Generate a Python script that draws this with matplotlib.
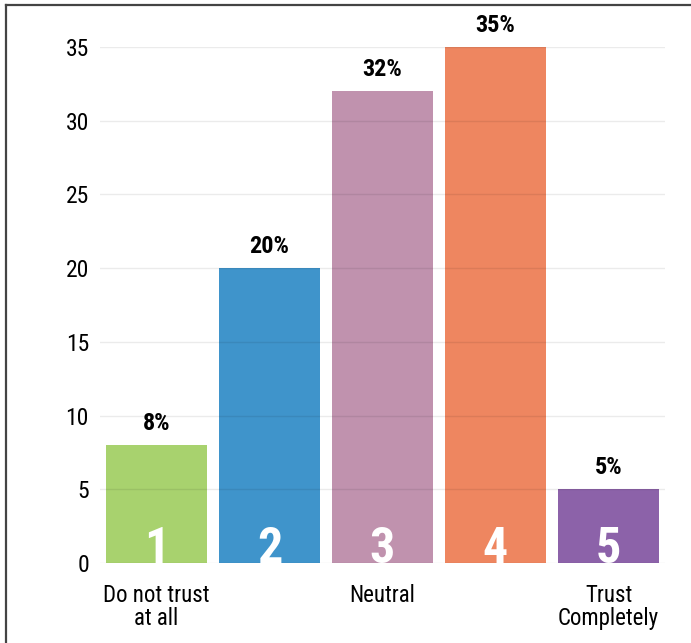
import matplotlib
matplotlib.use("Agg")
import matplotlib.pyplot as plt
from matplotlib.lines import Line2D

categories = ["1", "2", "3", "4", "5"]
values = [8, 20, 32, 35, 5]
pct_labels = ["8%", "20%", "32%", "35%", "5%"]
tick_labels = ["Do not trust\nat all", "", "Neutral", "", "Trust\nCompletely"]
colors = ["#a8d26e", "#3f94cb", "#c092ae", "#ee8660", "#8c62a9"]
yticks = [0, 5, 10, 15, 20, 25, 30, 35]

FONT = ['Liberation Sans Narrow', 'Roboto Condensed', 'DejaVu Sans']
plt.rcParams['font.family'] = FONT

fig = plt.figure(figsize=(6.91, 6.43), dpi=100)
ax = fig.add_axes([100/691, 80/643, 565/691, 516/643])
x = list(range(len(values)))
ax.bar(x, values, width=0.9, color=colors, zorder=2)
ax.set_xlim(-0.5, 4.5)
ax.set_ylim(0, 35)
ax.set_yticks(yticks)
ax.set_yticklabels([str(t) for t in yticks], fontsize=17)
ax.set_xticks(x)
ax.set_xticklabels(tick_labels, fontsize=16.5, linespacing=1.0)
ax.tick_params(axis='both', length=0)
ax.tick_params(axis='y', pad=8)
ax.tick_params(axis='x', pad=15)
for s in ax.spines.values():
    s.set_visible(False)
ax.grid(axis='y', color='#000000', alpha=0.08, linewidth=1, zorder=3)
ax.set_axisbelow(False)

for xi, v, lab, cat in zip(x, values, pct_labels, categories):
    ax.annotate(lab, (xi, v), xytext=(0, 11), textcoords='offset points',
                ha='center', va='baseline', fontsize=17.5, fontweight='bold',
                clip_on=False, zorder=4)
    ax.annotate(cat, (xi, 0), xytext=(0, 0), textcoords='offset points',
                ha='center', va='baseline', fontsize=36, fontweight='bold',
                color='white', clip_on=True, zorder=4)

fig.add_artist(Line2D([6/691, 6/691], [0, 1 - 5/643], transform=fig.transFigure,
                      color='#444444', linewidth=1.6))
fig.add_artist(Line2D([6/691, 1], [1 - 5/643, 1 - 5/643], transform=fig.transFigure,
                      color='#444444', linewidth=1.6))

fig.savefig("out.png", dpi=100)
